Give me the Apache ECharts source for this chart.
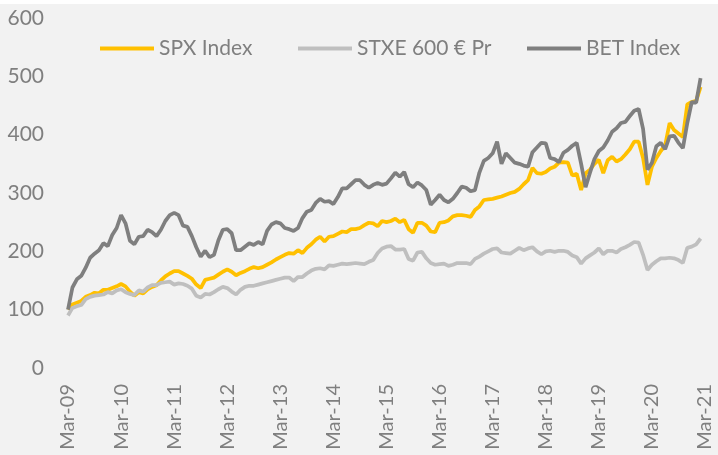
<!DOCTYPE html>
<html>
<head>
<meta charset="utf-8">
<script src="https://cdn.jsdelivr.net/npm/echarts@6/dist/echarts.min.js"></script>
<style>
  html, body { margin: 0; padding: 0; background: #fff; }
  #chart { position: absolute; left: 0; top: 4px; width: 718px; height: 451px; }
</style>
</head>
<body>
<div id="chart"></div>
<script>
// tick labels shown on the x axis, one per year
var tickLabels = ["Mar-09", "Mar-10", "Mar-11", "Mar-12", "Mar-13", "Mar-14", "Mar-15",
  "Mar-16", "Mar-17", "Mar-18", "Mar-19", "Mar-20", "Mar-21"];
var monthNames = ["Jan", "Feb", "Mar", "Apr", "May", "Jun", "Jul", "Aug", "Sep", "Oct", "Nov", "Dec"];

// monthly index values, rebased to 100 (Mar-09 .. Feb-21)
var spx = [
  100, 109, 112, 115, 122, 125, 129, 128, 134, 134, 137, 140,
  144, 140, 131, 124, 130, 128, 135, 139, 142, 150, 157, 162,
  166, 166, 162, 158, 153, 143, 137, 151, 153, 155, 160, 165,
  169, 165, 159, 163, 166, 170, 173, 171, 173, 177, 181, 186,
  190, 194, 197, 196, 202, 197, 206, 212, 220, 225, 217, 225,
  226, 230, 234, 233, 238, 238, 240, 245, 249, 248, 243, 252,
  250, 252, 256, 250, 254, 238, 232, 249, 249, 244, 234, 233,
  249, 250, 253, 260, 262, 262, 261, 259, 271, 277, 288, 289,
  290, 292, 294, 297, 300, 302, 307, 315, 322, 343, 334, 333,
  336, 342, 345, 352, 353, 352, 330, 333, 305, 334, 340, 350,
  357, 334, 356, 362, 354, 358, 366, 375, 388, 388, 360, 314,
  345, 360, 372, 382, 420, 408, 402, 396, 452, 456, 458, 482
];
var stxe = [
  90, 103, 106, 108, 118, 122, 124, 125, 126, 130, 128, 133,
  135, 130, 127, 125, 133, 131, 138, 142, 142, 146, 147, 148,
  143, 145, 144, 141, 136, 124, 121, 127, 126, 130, 135, 139,
  137, 131, 126, 134, 139, 141, 141, 143, 145, 147, 149, 151,
  153, 155, 155, 149, 156, 156, 162, 167, 170, 171, 169, 176,
  175, 177, 179, 178, 179, 180, 179, 178, 182, 185, 197, 205,
  208, 209, 203, 203, 204, 187, 184, 198, 199, 188, 180, 177,
  178, 179, 175, 177, 180, 180, 180, 178, 187, 191, 196, 200,
  204, 205, 198, 197, 196, 201, 206, 202, 205, 207, 200, 195,
  200, 201, 199, 201, 201, 199, 193, 190, 179, 188, 193, 198,
  205, 195, 201, 201, 198, 204, 207, 211, 216, 215, 194, 168,
  177, 183, 188, 188, 189, 188, 185, 180, 206, 208, 212, 222
];
var bet = [
  100, 138, 152, 158, 172, 189, 196, 202, 214, 209, 228, 240,
  262, 248, 218, 212, 225, 226, 237, 233, 226, 237, 252, 262,
  266, 262, 244, 242, 226, 207, 191, 201, 190, 194, 219, 237,
  238, 231, 202, 202, 208, 214, 211, 216, 212, 235, 246, 250,
  248, 240, 238, 235, 240, 257, 268, 271, 283, 290, 285, 286,
  281, 293, 308, 308, 315, 322, 322, 314, 309, 314, 317, 314,
  316, 325, 335, 328, 336, 315, 310, 318, 313, 305, 280, 288,
  297, 288, 284, 290, 300, 311, 309, 303, 305, 335, 355, 360,
  368, 388, 350, 368, 360, 352, 350, 347, 345, 370, 378, 386,
  385, 360, 358, 353, 369, 374, 381, 386, 350, 310, 335, 358,
  372, 378, 390, 405, 411, 420, 422, 432, 441, 444, 410, 340,
  352, 380, 386, 375, 397, 398, 386, 377, 420, 456, 455, 497
];

// month categories Mar-09 .. Mar-21
var months = [];
for (var y = 2009; y <= 2021; y++) {
  for (var m = 0; m < 12; m++) {
    if ((y === 2009 && m < 2) || (y === 2021 && m > 2)) continue;
    months.push(monthNames[m] + "-" + String(y).slice(2));
  }
}

var font = "Lato, 'Open Sans', sans-serif";
var grey = "#7f7f7f";

var chart = echarts.init(document.getElementById("chart"));

function legendAt(name, left) {
  return {
    data: [name],
    left: left,
    top: 34,
    padding: 0,
    icon: "rect",
    itemWidth: 54,
    itemHeight: 4,
    itemGap: 4,
    textStyle: { color: grey, fontSize: 21, fontFamily: font }
  };
}

var options = {
  backgroundColor: "#f2f2f2",
  animation: false,
  color: ["#ffc000", "#bfbfbf", "#7f7f7f"],
  legend: [
    legendAt("SPX Index", 100),
    legendAt("STXE 600 € Pr", 298),
    legendAt("BET Index", 527)
  ],
  grid: { left: 68, right: 13, top: 14, bottom: 87, containLabel: false },
  xAxis: {
    type: "category",
    data: months,
    boundaryGap: false,
    axisLine: { show: false },
    axisTick: { show: false },
    splitLine: { show: false },
    axisLabel: {
      interval: 11,
      rotate: 90,
      margin: 16,
      color: grey,
      fontSize: 20,
      fontFamily: font,
      formatter: function (v) { return tickLabels.indexOf(v) >= 0 ? v : ""; }
    }
  },
  yAxis: {
    type: "value",
    min: 0,
    max: 600,
    interval: 100,
    axisLine: { show: false },
    axisTick: { show: false },
    splitLine: { show: false },
    axisLabel: { color: grey, fontSize: 21, fontFamily: font, margin: 24 }
  },
  series: [
    { name: "SPX Index", type: "line", data: spx, symbol: "none", lineStyle: { width: 3.75 } },
    { name: "STXE 600 € Pr", type: "line", data: stxe, symbol: "none", lineStyle: { width: 3.75 } },
    { name: "BET Index", type: "line", data: bet, symbol: "none", lineStyle: { width: 3.75 } }
  ]
};

chart.setOption(options);
</script>
</body>
</html>
